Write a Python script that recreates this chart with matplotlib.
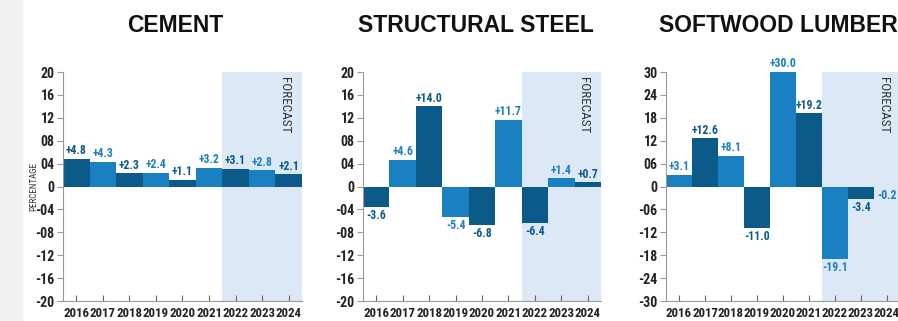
import numpy as np
import matplotlib
matplotlib.use("Agg")
import matplotlib.pyplot as plt
from matplotlib import font_manager

# pick a condensed family that has a bold face
candidates = ["Roboto Condensed", "Archivo Narrow", "Liberation Sans Narrow",
              "Fira Sans Condensed", "IBM Plex Sans Condensed", "Barlow Condensed",
              "PT Sans Narrow", "Encode Sans Condensed", "Sofia Sans Condensed",
              "Pragati Narrow", "Open Sans Condensed"]
bold_names = {f.name for f in font_manager.fontManager.ttflist
              if f.weight in (700, "bold") or "wght" in f.fname}
FONT = next((c for c in candidates if c in bold_names), "DejaVu Sans")
plt.rcParams["font.family"] = [FONT, "DejaVu Sans"]
TITLE_FONT = ["Liberation Sans", "DejaVu Sans"]

years = ["2016", "2017", "2018", "2019", "2020", "2021", "2022", "2023", "2024"]
titles = ["CEMENT", "STRUCTURAL STEEL", "SOFTWOOD LUMBER"]

cement = [4.8, 4.3, 2.3, 2.4, 1.1, 3.2, 3.1, 2.8, 2.1]
steel = [-3.6, 4.6, 14.0, -5.4, -6.8, 11.7, -6.4, 1.4, 0.7]
lumber = [3.1, 12.6, 8.1, -11.0, 30.0, 19.2, -19.1, -3.4, -0.2]

ticks_20 = [20, 16, 12, 8, 4, 0, -4, -8, -12, -16, -20]
ticklabels_20 = ["20", "16", "12", "08", "04", "0", "-04", "-08", "-12", "-16", "-20"]
ticks_30 = [30, 24, 18, 12, 6, 0, -6, -12, -18, -24, -30]
ticklabels_30 = ["30", "24", "18", "12", "06", "0", "-06", "-12", "-18", "-24", "-30"]

DARK = "#0c5a8a"
LIGHT = "#1a80c2"
SHADE = "#dce8f5"

panels = [
    (cement, ticks_20, ticklabels_20, 0),   # first bar dark
    (steel, ticks_20, ticklabels_20, 0),
    (lumber, ticks_30, ticklabels_30, 1),   # first bar light
]
lefts = [0.0702, 0.4042, 0.7416]
widths = [0.266, 0.265, 0.2606]
title_x = [175, 476, 778]   # title centres, px

fig = plt.figure(figsize=(8.98, 3.21), dpi=100)
fig.patches.append(plt.Rectangle((0, 0), 22 / 898, 1, transform=fig.transFigure,
                                 color="#f1f1f3", zorder=0))

for k, (vals, ticks, tlabels, phase) in enumerate(panels):
    ax = fig.add_axes([lefts[k], 0.0623, widths[k], 0.7134])
    x = np.arange(len(years))
    colors = [DARK if (i + phase) % 2 == 0 else LIGHT for i in range(len(years))]
    ax.axvspan(5.5, 8.5, color=SHADE, zorder=0, lw=0)
    ax.bar(x, vals, width=1.0, color=colors, zorder=2, lw=0)
    lim = ticks[0]
    off = lim * 0.015
    for i, v in enumerate(vals):
        lab = f"+{v:.1f}" if v > 0 else f"{v:.1f}"
        if v >= 0:
            ax.text(i, v + off, lab, ha="center", va="bottom", color=colors[i],
                    fontsize=8.5, fontweight="bold", zorder=3)
        else:
            ax.text(i, v - off, lab, ha="center", va="top", color=colors[i],
                    fontsize=8.5, fontweight="bold", zorder=3)
    ax.set_xlim(-0.5, 8.5)
    ax.set_ylim(-lim, lim)
    ax.set_yticks(ticks)
    ax.set_yticklabels(tlabels)
    ax.set_xticks(x)
    ax.set_xticklabels(years)
    for s in ["top", "right"]:
        ax.spines[s].set_visible(False)
    for s in ["left", "bottom"]:
        ax.spines[s].set_color("#999999")
        ax.spines[s].set_linewidth(0.8)
    ax.tick_params(axis="y", length=4, width=0.8, color="#999999", pad=2,
                   labelsize=10)
    ax.tick_params(axis="x", direction="in", length=4, width=0.8, color="#666666",
                   pad=4, labelsize=9.3)
    for t in ax.get_xticklabels() + ax.get_yticklabels():
        t.set_fontweight("bold")
        t.set_color("#222222")
    ax.text(7.85, lim * 0.96, "FORECAST", rotation=-90, ha="center", va="top",
            fontsize=9.5, color="#333333", zorder=3)
    if k == 0:
        ax.set_ylabel("PERCENTAGE", fontsize=6.5, color="#333333")
        ax.yaxis.set_label_coords(-0.105, 0.5)
    fig.text(title_x[k] / 898, 0.922, titles[k], ha="center",
             va="center", fontsize=16.5, fontweight="bold", color="#111111",
             family=TITLE_FONT)

fig.savefig("out.png", dpi=100)
